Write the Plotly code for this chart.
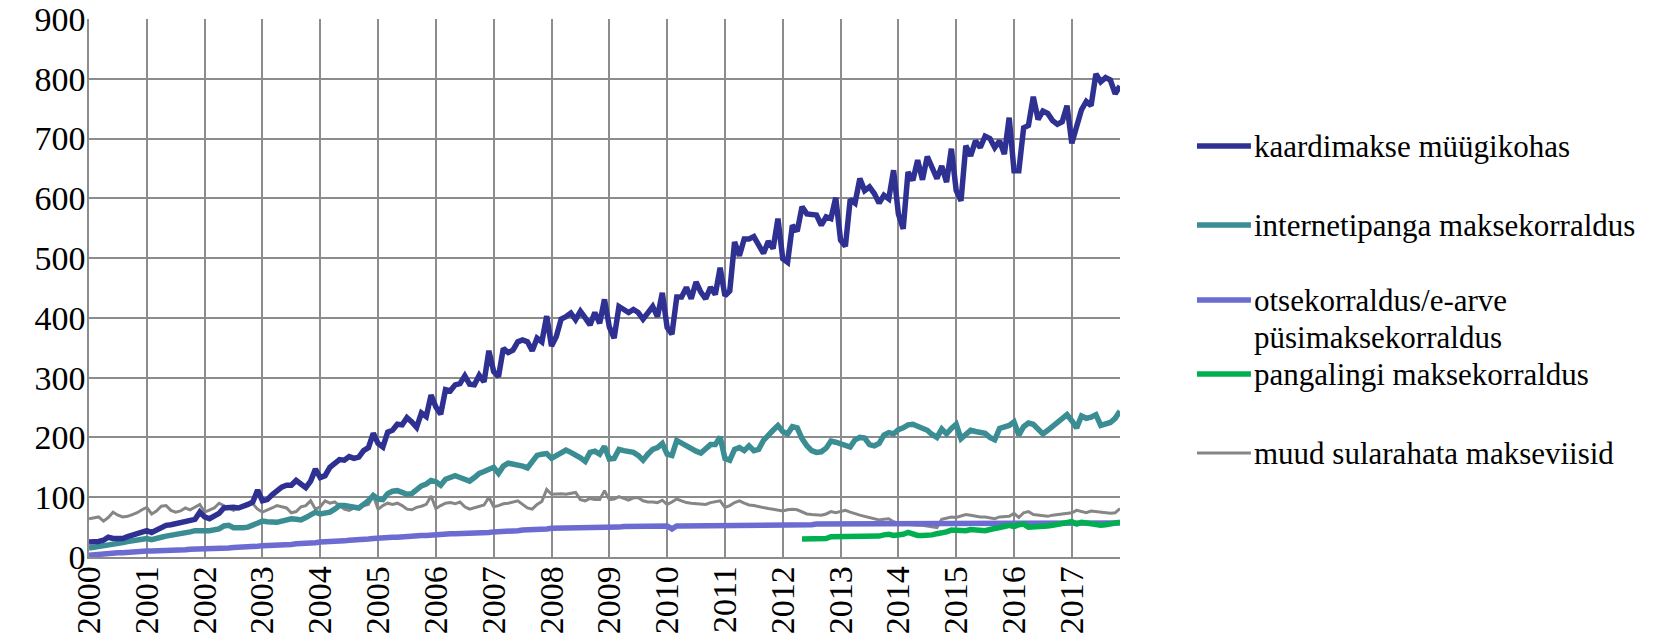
import plotly.graph_objects as go

# Monthly values, Jan 2000 - Nov 2017
kaardimakse = [
    25, 25, 26, 28, 33, 31, 30, 31, 34, 36, 38, 41,
    44, 41, 45, 50, 53, 54, 56, 57, 58, 61, 63, 75,
    67, 64, 68, 73, 82, 83, 83, 82, 84, 88, 92, 112,
    94, 96, 104, 110, 117, 120, 120, 128, 122, 116, 127, 147,
    133, 136, 150, 158, 163, 162, 168, 165, 167, 178, 183, 207,
    190, 184, 209, 212, 222, 221, 233, 226, 217, 241, 235, 271,
    251, 239, 280, 278, 288, 290, 303, 289, 288, 304, 293, 345,
    310, 302, 349, 342, 346, 360, 363, 360, 345, 366, 360, 403,
    353, 369, 398, 402, 408, 397, 411, 400, 388, 409, 391, 431,
    385, 366, 419, 414, 409, 414, 409, 398, 407, 419, 402, 442,
    384, 373, 435, 435, 451, 432, 460, 443, 432, 451, 439, 484,
    437, 445, 527, 504, 532, 532, 536, 523, 508, 528, 516, 566,
    499, 493, 555, 545, 586, 574, 573, 572, 555, 569, 566, 601,
    530, 520, 598, 592, 633, 613, 619, 608, 592, 605, 599, 647,
    574, 549, 644, 630, 664, 631, 670, 653, 633, 654, 627, 683,
    613, 596, 688, 671, 696, 685, 704, 700, 685, 696, 674, 735,
    646, 646, 718, 722, 770, 732, 746, 742, 730, 724, 728, 755,
    692, 720, 748, 762, 755, 808, 795, 802, 798, 775, 788,
]

internetipank = [
    15, 16, 17, 18, 19, 21, 22, 24, 26, 27, 28, 30,
    31, 29, 30, 33, 35, 36, 38, 39, 40, 42, 44, 45,
    44, 44, 45, 47, 52, 53, 49, 48, 49, 50, 54, 57,
    60, 59, 58, 58, 60, 63, 64, 63, 62, 66, 71, 75,
    72, 73, 75, 80, 86, 86, 85, 84, 82, 88, 94, 103,
    97, 96, 106, 110, 111, 108, 105, 106, 114, 119, 122, 128,
    126, 120, 130, 134, 136, 133, 129, 127, 133, 140, 143, 146,
    150, 140, 152, 157, 156, 155, 152, 149, 160, 170, 172, 173,
    165, 170, 176, 179, 175, 171, 166, 160, 175, 177, 172, 185,
    164, 165, 180, 178, 176, 175, 170, 162, 172, 180, 183, 190,
    172, 170, 195, 190, 185, 182, 177, 174, 182, 188, 188, 201,
    165, 162, 180, 183, 178, 186, 178, 180, 195, 205, 212, 220,
    210, 206, 218, 216, 198, 186, 178, 175, 176, 182, 194, 192,
    190, 187, 184, 196, 200, 199, 188, 186, 190, 204, 208, 206,
    213, 216, 221, 222, 219, 216, 212, 205, 200, 214, 206, 215,
    222, 198, 205, 212, 210, 209, 207, 200, 196, 215, 218, 220,
    226, 204, 218, 224, 222, 213, 206, 212, 218, 224, 232, 238,
    228, 216, 236, 232, 234, 238, 220, 222, 225, 232, 244,
]

otsekorraldus = [
    3, 4, 5, 5, 6, 6, 7, 7, 8, 8, 9, 9,
    10, 10, 10, 11, 11, 11, 12, 12, 12, 13, 13, 13,
    14, 14, 14, 15, 15, 15, 16, 16, 17, 17, 17, 18,
    19, 19, 20, 20, 20, 21, 21, 22, 22, 23, 23, 24,
    25, 25, 26, 26, 27, 27, 28, 28, 29, 29, 30, 31,
    32, 32, 33, 33, 33, 34, 34, 35, 35, 36, 36, 37,
    38, 38, 38, 39, 39, 39, 40, 40, 40, 41, 41, 41,
    42, 42, 43, 43, 44, 44, 45, 45, 46, 46, 47, 47,
    48, 48, 48, 49, 49, 49, 49, 50, 50, 50, 50, 50,
    50, 50, 50, 51, 51, 51, 51, 51, 51, 51, 52, 52,
    52, 47, 52, 52, 52, 52, 52, 52, 52, 52, 52, 52,
    52, 52, 52, 52, 52, 53, 53, 53, 53, 53, 53, 53,
    53, 53, 54, 54, 54, 54, 54, 55, 55, 55, 55, 55,
    55, 55, 56, 56, 56, 56, 56, 57, 57, 57, 57, 57,
    57, 57, 57, 57, 57, 57, 57, 57, 57, 57, 57, 57,
    57, 56, 56, 56, 56, 56, 56, 56, 56, 56, 56, 56,
    56, 56, 56, 56, 56, 56, 56, 56, 56, 56, 56, 57,
    56, 56, 56, 57, 57, 57, 57, 57, 57, 57, 57,
]

# Starts May 2012
pangalink_start = 148
pangalink = [
    30, 30, 30, 30, 30, 31, 34, 34,
    33, 34, 35, 35, 35, 34, 33, 33, 35, 37, 38, 36,
    36, 38, 41, 38, 36, 36, 36, 37, 39, 40, 42, 45,
    45, 43, 44, 46, 45, 43, 44, 46, 47, 49, 51, 53,
    51, 54, 55, 50, 50, 51, 52, 52, 53, 54, 56, 58,
    59, 55, 58, 57, 55, 54, 53, 54, 55, 56, 58,
]

muud = [
    64, 66, 67, 60, 66, 75, 70, 67, 68, 71, 74, 79,
    83, 72, 77, 85, 86, 78, 75, 77, 82, 79, 84, 88,
    75, 78, 82, 90, 86, 83, 78, 82, 86, 89, 89, 80,
    75, 78, 82, 86, 84, 82, 74, 76, 84, 86, 94, 80,
    84, 94, 90, 92, 86, 80, 78, 82, 84, 86, 88, 103,
    80, 86, 90, 88, 90, 86, 80, 79, 83, 85, 88, 102,
    81, 86, 90, 91, 89, 92, 84, 80, 82, 84, 87, 100,
    84, 86, 89, 90, 92, 94, 88, 82, 80, 88, 93, 113,
    105, 106, 106, 105, 107, 108, 96, 94, 98, 96, 96, 111,
    96, 97, 101, 98, 95, 99, 99, 94, 92, 92, 91, 95,
    88, 92, 97, 94, 91, 90, 89, 88, 88, 91, 93, 94,
    83, 86, 91, 94, 90, 87, 86, 84, 82, 81, 80, 79,
    77, 79, 80, 79, 75, 72, 71, 70, 70, 72, 76, 74,
    76, 78, 75, 72, 70, 68, 66, 63, 62, 63, 64, 59,
    56, 55, 54, 53, 53, 53, 52, 51, 49, 63, 65, 67,
    66, 68, 71, 70, 68, 67, 67, 66, 64, 67, 68, 68,
    73, 66, 74, 76, 71, 70, 69, 68, 70, 71, 72, 73,
    74, 78, 76, 74, 77, 76, 74, 73, 73, 74, 81,
]

years = list(range(2000, 2018))
year_labels = [str(y) for y in years]

series_names = [
    "kaardimakse müügikohas",
    "internetipanga maksekorraldus",
    "otsekorraldus/e-arve püsimaksekorraldus",
    "pangalingi maksekorraldus",
    "muud sularahata makseviisid",
]
colors = ["#2E3192", "#3A8D92", "#6B6BD2", "#00B050", "#868686"]
widths = [5.5, 5.5, 5.5, 5.5, 3]

x_all = [2000 + i / 12 for i in range(len(kaardimakse))]
x_link = x_all[pangalink_start:pangalink_start + len(pangalink)]

fig = go.Figure()
data = [
    (x_all, kaardimakse),
    (x_all, internetipank),
    (x_all, otsekorraldus),
    (x_link, pangalink),
    (x_all, muud),
]
order = [4, 2, 3, 1, 0]
for i in order:
    xs, ys = data[i]
    fig.add_trace(go.Scatter(
        x=xs, y=ys, mode="lines", name=series_names[i],
        line=dict(color=colors[i], width=widths[i]),
        showlegend=False,
    ))

# page body has an 8px margin, so the figure is drawn 8px in from the corner
OFF = 8
FW, FH = 1663 - 2 * OFF, 642 - 2 * OFF
L, R, T, B = 88.5 - OFF, 1120 - OFF, 19 - OFF, 557 - OFF
W, H = R - L, B - T

def px(xp):
    return (xp - OFF - L) / W

def py(yp):
    return (B - (yp - OFF)) / H

FONT = "Liberation Serif"
LEG_SIZE = 31

legend_rows = [
    (146, "kaardimakse müügikohas", colors[0], widths[0]),
    (225, "internetipanga maksekorraldus", colors[1], widths[1]),
    (300, "otsekorraldus/e-arve", colors[2], widths[2]),
    (374, "pangalingi maksekorraldus", colors[3], widths[3]),
    (453, "muud sularahata makseviisid", colors[4], widths[4]),
]
shapes = []
annotations = []
for yp, txt, c, w in legend_rows:
    shapes.append(dict(type="line", xref="paper", yref="paper",
                       x0=px(1197), x1=px(1251), y0=py(yp), y1=py(yp),
                       line=dict(color=c, width=w)))
    annotations.append(dict(xref="paper", yref="paper", x=px(1252), y=py(yp),
                            text=txt, showarrow=False, xanchor="left", yanchor="middle",
                            font=dict(family=FONT, size=LEG_SIZE, color="black")))
annotations.append(dict(xref="paper", yref="paper", x=px(1252), y=py(337),
                        text="püsimaksekorraldus", showarrow=False, xanchor="left",
                        yanchor="middle", font=dict(family=FONT, size=LEG_SIZE, color="black")))

fig.update_layout(
    width=FW, height=FH,
    margin=dict(l=L, r=FW - R, t=T, b=FH - B, autoexpand=False),
    paper_bgcolor="white", plot_bgcolor="white",
    font=dict(family=FONT, size=34, color="black"),
    shapes=shapes, annotations=annotations,
    showlegend=False,
)
fig.update_xaxes(
    range=[2000, x_all[-1]],
    tickvals=years, ticktext=year_labels, tickangle=-90,
    showgrid=True, gridcolor="#8C8C8C", gridwidth=1.5,
    showline=True, linecolor="#8C8C8C", linewidth=1.5,
    zeroline=False, ticks="", automargin=False, ticklabelstandoff=-6,
    ticklabeloverflow="allow",
    tickfont=dict(family=FONT, size=34, color="black"),
)
fig.update_yaxes(
    range=[0, 900], dtick=100, tick0=0,
    showgrid=True, gridcolor="#8C8C8C", gridwidth=1.5,
    showline=True, linecolor="#8C8C8C", linewidth=1.5,
    zeroline=False, ticks="", automargin=False, ticklabelstandoff=-5,
    ticklabeloverflow="allow",
    tickfont=dict(family=FONT, size=34, color="black"),
)

fig.write_html("out.html")
